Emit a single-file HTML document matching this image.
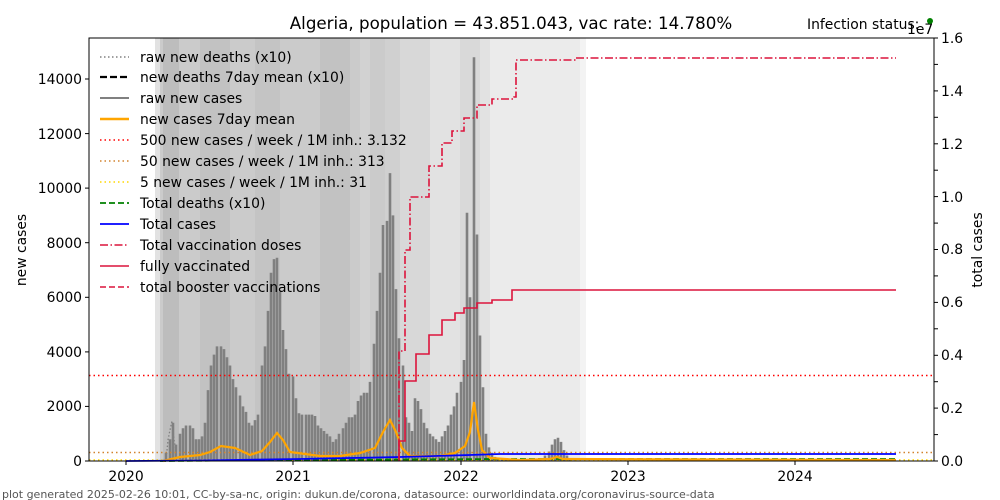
<!DOCTYPE html>
<html><head><meta charset="utf-8"><style>
html,body{margin:0;padding:0;background:#fff}
svg{display:block;font-family:"DejaVu Sans","Liberation Sans",sans-serif}
</style></head><body>
<svg width="1000" height="500" viewBox="0 0 1000 500" xmlns="http://www.w3.org/2000/svg">
<rect width="1000" height="500" fill="#fff"/>
<g>
<rect x="155" y="38" width="10" height="423" fill="#e2e2e2"/>
<rect x="160" y="38" width="240" height="423" fill="#cbcbcb"/>
<rect x="163" y="38" width="16" height="423" fill="#bdbdbd"/>
<rect x="200" y="38" width="30" height="423" fill="#c2c2c2"/>
<rect x="255" y="38" width="25" height="423" fill="#c4c4c4"/>
<rect x="320" y="38" width="30" height="423" fill="#c2c2c2"/>
<rect x="360" y="38" width="10" height="423" fill="#d2d2d2"/>
<rect x="385" y="38" width="15" height="423" fill="#d0d0d0"/>
<rect x="400" y="38" width="30" height="423" fill="#d8d8d8"/>
<rect x="430" y="38" width="60" height="423" fill="#e2e2e2"/>
<rect x="460" y="38" width="20" height="423" fill="#d9d9d9"/>
<rect x="490" y="38" width="90" height="423" fill="#ebebeb"/>
<rect x="580" y="38" width="6" height="423" fill="#f3f3f3"/>
</g>
<path fill="none" stroke="#808080" stroke-width="2.6" d="M166,461V452.8 M170,461V439.2 M173,461V422.8 M176,461V444.6 M180,461V433.7 M183,461V428.3 M186,461V425.5 M190,461V425.5 M193,461V428.3 M196,461V439.2 M199,461V439.2 M202,461V436.4 M205,461V422.8 M208,461V390.1 M211,461V365.5 M214,461V354.6 M217,461V346.4 M221,461V346.4 M224,461V349.1 M227,461V357.3 M230,461V365.5 M233,461V379.1 M236,461V387.3 M240,461V395.5 M243,461V406.4 M246,461V411.9 M249,461V422.8 M252,461V425.5 M255,461V420.1 M258,461V414.6 M262,461V365.5 M265,461V346.4 M268,461V310.9 M271,461V272.7 M274,461V259.1 M277,461V257.7 M280,461V291.8 M283,461V330 M286,461V349.1 M289,461V373.7 M293,461V376.4 M296,461V398.2 M299,461V413.3 M302,461V414.6 M306,461V414.6 M309,461V414.6 M312,461V414.6 M315,461V416 M318,461V425.5 M321,461V428.3 M324,461V431 M327,461V433.7 M330,461V436.4 M333,461V441.9 M336,461V439.2 M339,461V433.7 M343,461V428.3 M346,461V422.8 M349,461V417.3 M352,461V417.3 M355,461V414.6 M358,461V401 M361,461V395.5 M364,461V392.8 M367,461V392.8 M370,461V381.9 M374,461V343.7 M377,461V310.9 M380,461V272.7 M383,461V225 M387,461V220.9 M390,461V173.1 M393,461V215.4 M396,461V289.1 M399,461V338.2 M403,461V365.5 M406,461V417.3 M409,461V422.8 M412,461V431 M415,461V398.2 M418,461V401 M421,461V409.1 M424,461V422.8 M427,461V428.3 M430,461V433.7 M433,461V436.4 M436,461V439.2 M439,461V441.9 M442,461V436.4 M445,461V431 M448,461V425.5 M451,461V414.6 M454,461V406.4 M457,461V392.8 M461,461V381.9 M464,461V360 M467,461V212.7 M470,461V297.3 M474,461V57.2 M477,461V234.5 M480,461V335.5 M483,461V387.3 M486,461V433.7 M489,461V447.4 M492,461V452.8 M495,461V456.9 M498,461V458.3 M502,461V458.8 M506,461V459.4 M510,461V459.6 M515,461V459.6 M520,461V459.9 M525,461V459.9 M530,461V459.9 M535,461V459.6 M540,461V459.4 M545,461V455.5 M549,461V451.5 M552,461V444.6 M555,461V439.2 M558,461V437.8 M561,461V441.9 M564,461V450.1 M567,461V455.5 M570,461V459.4 M575,461V460.2"/>
<line x1="89" y1="375.5" x2="934" y2="375.5" stroke="#ff0000" stroke-width="1.5" stroke-dasharray="1.5,3"/>
<line x1="89" y1="452.5" x2="934" y2="452.5" stroke="#d2832e" stroke-width="1.5" stroke-dasharray="1.5,3"/>
<line x1="89" y1="460" x2="934" y2="460" stroke="#ffd700" stroke-width="1.5" stroke-dasharray="1.5,3"/>
<polyline points="166,461 168,440 170,430 172,421 174,440 176,450" fill="none" stroke="#808080" stroke-width="1.3" stroke-dasharray="1.5,2"/>
<polyline points="160,461 300,460 500,459 896,459" fill="none" stroke="#008000" stroke-width="1.8" stroke-dasharray="6,3"/>
<polyline points="163,461 180,457 200,455 210,452 221,446 235,448 250,455 262,451 270,442 277,433 283,440 290,452 320,456 340,456 360,453 375,448 383,432 390,420 396,432 402,448 410,456 440,456 455,453 465,446 470,432 474,402 478,430 482,450 490,458 520,460 550,459 557,457 563,459 896,460" fill="none" stroke="#ffa500" stroke-width="2.2"/>
<polyline points="126,461 200,460.5 300,459 400,457 470,455 500,454 896,454" fill="none" stroke="#0000ff" stroke-width="1.8"/>
<path d="M399,461 V351 H405 V250 H410 V197 H429 V166 H442 V143 H452 V131 H464 V118 H477 V105 H492 V99 H514 V97 H516 V60 H576 V58 H896" fill="none" stroke="#dc143c" stroke-width="1.6" stroke-dasharray="8,2.5,1.5,2.5"/>
<path d="M399,461 V441 H405 V381 H416 V354 H429 V335 H442 V320 H455 V313 H464 V308 H477 V303 H492 V300 H512 V290 H896" fill="none" stroke="#dc143c" stroke-width="1.6"/>
<rect x="89" y="38" width="845" height="423" fill="none" stroke="#000" stroke-width="1"/>
<g stroke="#000" stroke-width="1">
<line x1="126" y1="461" x2="126" y2="465"/><line x1="293" y1="461" x2="293" y2="465"/><line x1="461" y1="461" x2="461" y2="465"/><line x1="628" y1="461" x2="628" y2="465"/><line x1="795" y1="461" x2="795" y2="465"/>
<line x1="85" y1="461" x2="89" y2="461"/><line x1="85" y1="406.4" x2="89" y2="406.4"/><line x1="85" y1="351.9" x2="89" y2="351.9"/><line x1="85" y1="297.3" x2="89" y2="297.3"/><line x1="85" y1="242.7" x2="89" y2="242.7"/><line x1="85" y1="188.1" x2="89" y2="188.1"/><line x1="85" y1="133.6" x2="89" y2="133.6"/><line x1="85" y1="79" x2="89" y2="79"/>
<line x1="934" y1="461" x2="938" y2="461"/><line x1="934" y1="434.6" x2="938" y2="434.6"/><line x1="934" y1="408.1" x2="938" y2="408.1"/><line x1="934" y1="381.7" x2="938" y2="381.7"/><line x1="934" y1="355.3" x2="938" y2="355.3"/><line x1="934" y1="328.8" x2="938" y2="328.8"/><line x1="934" y1="302.4" x2="938" y2="302.4"/><line x1="934" y1="275.9" x2="938" y2="275.9"/><line x1="934" y1="249.5" x2="938" y2="249.5"/><line x1="934" y1="223.1" x2="938" y2="223.1"/><line x1="934" y1="196.6" x2="938" y2="196.6"/><line x1="934" y1="170.2" x2="938" y2="170.2"/><line x1="934" y1="143.8" x2="938" y2="143.8"/><line x1="934" y1="117.3" x2="938" y2="117.3"/><line x1="934" y1="90.9" x2="938" y2="90.9"/><line x1="934" y1="64.4" x2="938" y2="64.4"/><line x1="934" y1="38" x2="938" y2="38"/>
</g>
<g font-size="13.9" fill="#000">
<g text-anchor="middle"><text x="126" y="481">2020</text><text x="293" y="481">2021</text><text x="461" y="481">2022</text><text x="628" y="481">2023</text><text x="795" y="481">2024</text></g>
<g text-anchor="end"><text x="82" y="466">0</text><text x="82" y="411">2000</text><text x="82" y="357">4000</text><text x="82" y="302">6000</text><text x="82" y="248">8000</text><text x="82" y="193">10000</text><text x="82" y="139">12000</text><text x="82" y="84">14000</text></g>
<g><text x="941" y="466">0.0</text><text x="941" y="413">0.2</text><text x="941" y="360">0.4</text><text x="941" y="307">0.6</text><text x="941" y="254">0.8</text><text x="941" y="202">1.0</text><text x="941" y="149">1.2</text><text x="941" y="96">1.4</text><text x="941" y="43">1.6</text></g>
<text x="907" y="34">1e7</text>
<text transform="translate(26,250) rotate(-90)" text-anchor="middle">new cases</text>
<text transform="translate(982,250) rotate(-90)" text-anchor="middle">total cases</text>
<text x="807" y="29">Infection status: </text>
</g>
<circle cx="930" cy="21" r="3" fill="#008000"/>
<text x="511" y="29" font-size="16.7" text-anchor="middle">Algeria, population = 43.851.043, vac rate: 14.780%</text>
<text x="2" y="498" font-size="11" fill="#555">plot generated 2025-02-26 10:01, CC-by-sa-nc, origin: dukun.de/corona, datasource: ourworldindata.org/coronavirus-source-data</text>
<g font-size="13.9" fill="#000">
<line x1="100" y1="57" x2="129" y2="57" stroke="#808080" stroke-width="1.5" stroke-dasharray="1.5,2.5"/>
<line x1="100" y1="77" x2="129" y2="77" stroke="#000" stroke-width="2.2" stroke-dasharray="7,3"/>
<line x1="100" y1="98" x2="129" y2="98" stroke="#808080" stroke-width="2"/>
<line x1="100" y1="119" x2="129" y2="119" stroke="#ffa500" stroke-width="2.5"/>
<line x1="100" y1="140" x2="129" y2="140" stroke="#ff0000" stroke-width="1.5" stroke-dasharray="1.5,3"/>
<line x1="100" y1="161" x2="129" y2="161" stroke="#d2832e" stroke-width="1.5" stroke-dasharray="1.5,3"/>
<line x1="100" y1="182" x2="129" y2="182" stroke="#ffd700" stroke-width="1.5" stroke-dasharray="1.5,3"/>
<line x1="100" y1="203" x2="129" y2="203" stroke="#008000" stroke-width="1.8" stroke-dasharray="6,3"/>
<line x1="100" y1="224" x2="129" y2="224" stroke="#0000ff" stroke-width="1.8"/>
<line x1="100" y1="245" x2="129" y2="245" stroke="#dc143c" stroke-width="1.6" stroke-dasharray="8,2.5,1.5,2.5"/>
<line x1="100" y1="266" x2="129" y2="266" stroke="#dc143c" stroke-width="1.6"/>
<line x1="100" y1="287" x2="129" y2="287" stroke="#dc143c" stroke-width="1.6" stroke-dasharray="6,3"/>
<text x="140" y="62">raw new deaths (x10)</text>
<text x="140" y="82">new deaths 7day mean (x10)</text>
<text x="140" y="103">raw new cases</text>
<text x="140" y="124">new cases 7day mean</text>
<text x="140" y="145">500 new cases / week / 1M inh.: 3.132</text>
<text x="140" y="166">50 new cases / week / 1M inh.: 313</text>
<text x="140" y="187">5 new cases / week / 1M inh.: 31</text>
<text x="140" y="208">Total deaths (x10)</text>
<text x="140" y="229">Total cases</text>
<text x="140" y="250">Total vaccination doses</text>
<text x="140" y="271">fully vaccinated</text>
<text x="140" y="292">total booster vaccinations</text>
</g>
</svg>
</body></html>
